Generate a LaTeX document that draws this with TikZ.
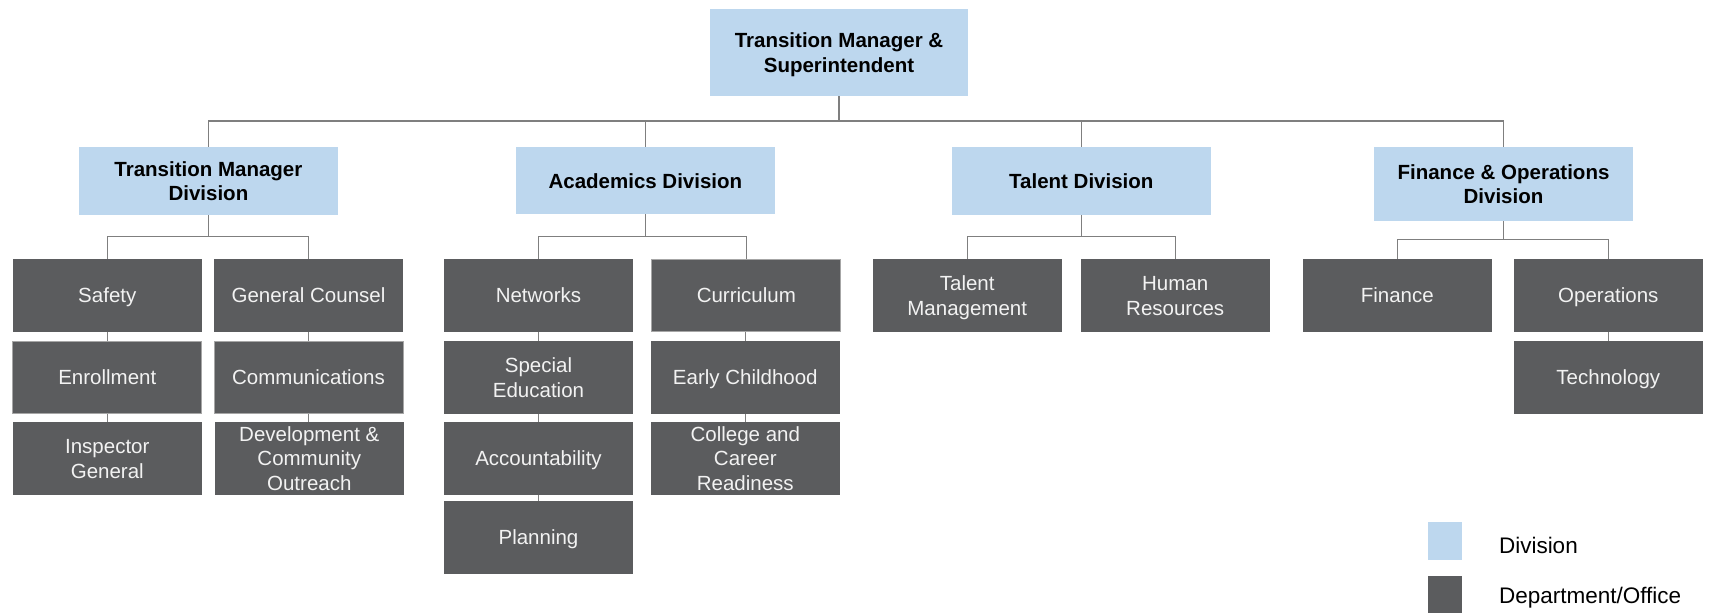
\documentclass[tikz,border=0pt]{standalone}
\usepackage{fontspec}
\setmainfont{Liberation Sans}
\definecolor{divblue}{HTML}{BDD7EE}
\definecolor{deptgray}{HTML}{5B5C5E}
\definecolor{linegray}{HTML}{7F7F7F}
\definecolor{edgegray}{HTML}{A6A6A6}
\newcommand{\bs}{\rule[-4.5pt]{0pt}{24pt}}
\begin{document}
\begin{tikzpicture}[x=1pt,y=-1pt,
  divbox/.style={fill=divblue, inner sep=0pt, align=center, text=black,
    font=\fontsize{20.5}{24.5}\selectfont\bfseries},
  deptbox/.style={fill=deptgray, inner sep=0pt, align=center, text=white!95!black,
    minimum width=189pt, minimum height=72.7pt,
    font=\fontsize{20.5}{24.5}\selectfont},
  edged/.style={draw=edgegray, line width=0.8pt},
  conn/.style={draw=linegray, line width=1.4pt},
  legtext/.style={anchor=west, inner sep=0pt, font=\fontsize{22.5}{26}\selectfont}]
\useasboundingbox (0,0) rectangle (1711,615);

% top and divisions
\node[divbox, minimum width=258pt, minimum height=87pt] (top) at (839,52.5) {\bs Transition Manager \&\bs\\\bs Superintendent\bs};
\node[divbox, minimum width=259pt, minimum height=68pt] (tmd) at (208.4,181) {\bs Transition Manager\bs\\\bs Division\bs};
\node[divbox, minimum width=259pt, minimum height=67pt] (acd) at (645.4,180.5) {\bs Academics Division\bs};
\node[divbox, minimum width=259pt, minimum height=68pt] (tad) at (1081.3,181) {\bs Talent Division\bs};
\node[divbox, minimum width=259pt, minimum height=74pt] (fod) at (1503.5,184) {\bs Finance \& Operations\bs\\\bs Division\bs};

% departments
\node[deptbox] (safety) at (107.3,295.3) {\bs Safety\bs};
\node[deptbox, edged] (enroll) at (107.3,377.3) {\bs Enrollment\bs};
\node[deptbox] (ig) at (107.3,458.3) {\bs Inspector\bs\\\bs General\bs};
\node[deptbox] (gc) at (308.5,295.3) {\bs General Counsel\bs};
\node[deptbox, edged] (comm) at (308.5,377.3) {\bs Communications\bs};
\node[deptbox] (dev) at (309.3,458.3) {\bs Development \&\bs\\\bs Community\bs\\\bs Outreach\bs};
\node[deptbox] (net) at (538.5,295.3) {\bs Networks\bs};
\node[deptbox] (sped) at (538.5,377.3) {\bs Special\bs\\\bs Education\bs};
\node[deptbox] (acc) at (538.5,458.3) {\bs Accountability\bs};
\node[deptbox] (plan) at (538.5,537.3) {\bs Planning\bs};
\node[deptbox, edged] (curr) at (746.3,295.3) {\bs Curriculum\bs};
\node[deptbox] (early) at (745.3,377.3) {\bs Early Childhood\bs};
\node[deptbox] (ccr) at (745.3,458.3) {\bs College and\bs\\\bs Career\bs\\\bs Readiness\bs};
\node[deptbox] (tm) at (967.2,295.3) {\bs Talent\bs\\\bs Management\bs};
\node[deptbox] (hr) at (1175.2,295.3) {\bs Human\bs\\\bs Resources\bs};
\node[deptbox] (fin) at (1397.3,295.3) {\bs Finance\bs};
\node[deptbox] (ops) at (1608.3,295.3) {\bs Operations\bs};
\node[deptbox] (tech) at (1608.3,377.3) {\bs Technology\bs};

% bus coordinates
\coordinate (bus0) at (0,121);
\coordinate (bus1) at (0,236.7);
\coordinate (bus2) at (0,239.7);

% top-level connectors
\draw[conn] (top.south) -- (top.south |- bus0);
\draw[conn] (tmd.north) -- (tmd.north |- bus0) -- (fod.north |- bus0) -- (fod.north);
\draw[conn] (acd.north) -- (acd.north |- bus0);
\draw[conn] (tad.north) -- (tad.north |- bus0);

% division to department connectors
\draw[conn] (tmd.south) -- (tmd.south |- bus1);
\draw[conn] (safety.north) -- (safety.north |- bus1) -- (gc.north |- bus1) -- (gc.north);
\draw[conn] (acd.south) -- (acd.south |- bus1);
\draw[conn] (net.north) -- (net.north |- bus1) -- (curr.north |- bus1) -- (curr.north);
\draw[conn] (tad.south) -- (tad.south |- bus1);
\draw[conn] (tm.north) -- (tm.north |- bus1) -- (hr.north |- bus1) -- (hr.north);
\draw[conn] (fod.south) -- (fod.south |- bus2);
\draw[conn] (fin.north) -- (fin.north |- bus2) -- (ops.north |- bus2) -- (ops.north);

% stacked connectors
\draw[conn] (safety.south) -- (enroll.north);
\draw[conn] (enroll.south) -- (ig.north);
\draw[conn] (gc.south) -- (comm.north);
\draw[conn] (comm.south) -- (comm.south |- dev.north);
\draw[conn] (net.south) -- (sped.north);
\draw[conn] (sped.south) -- (acc.north);
\draw[conn] (acc.south) -- (plan.north);
\draw[conn] (curr.south -| early.south) -- (early.north);
\draw[conn] (early.south) -- (ccr.north);
\draw[conn] (ops.south) -- (tech.north);

% legend
\node[fill=divblue, minimum width=33.6pt, minimum height=37.7pt, inner sep=0pt] (legdiv) at (1444.8,540.8) {};
\node[fill=deptgray, minimum width=33.6pt, minimum height=37.3pt, inner sep=0pt] (legdept) at (1444.8,594.7) {};
\node[legtext] (legdivt) at (1498.8,545) {Division};
\node[legtext] (legdeptt) at (1498.8,598) {Department/Office};
\end{tikzpicture}
\end{document}
